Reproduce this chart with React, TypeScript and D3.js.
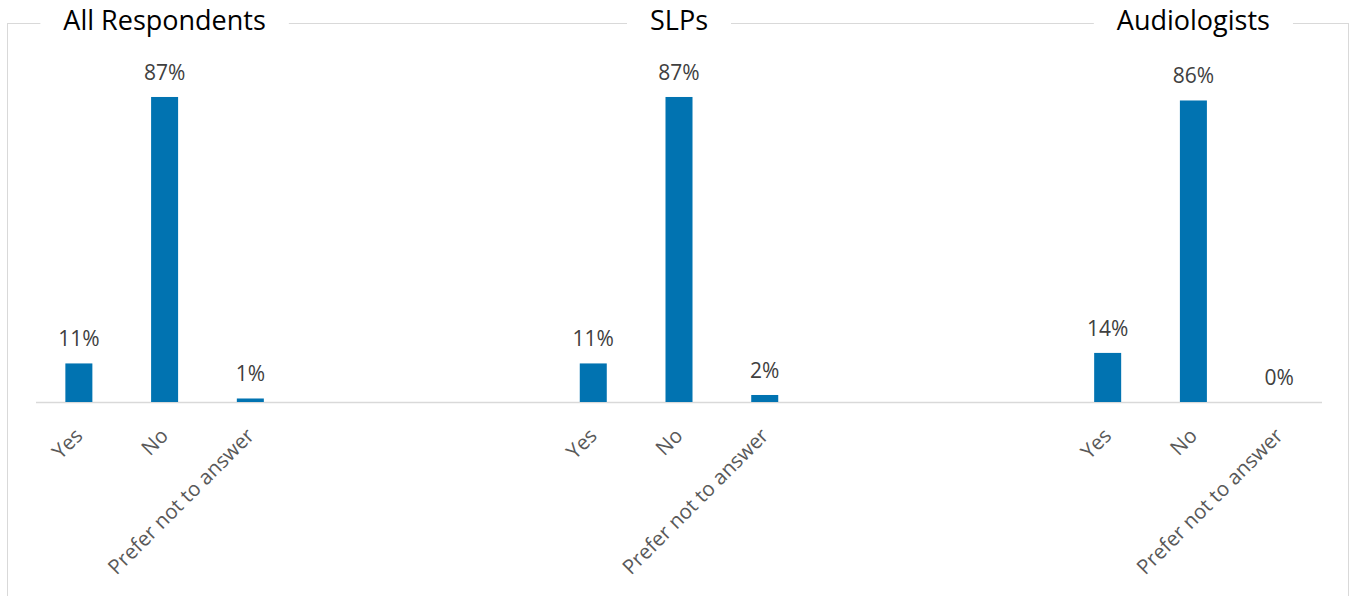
import React, { useEffect, useRef } from "react";
import * as d3 from "d3";

const groups = ["All Respondents", "SLPs", "Audiologists"];
const categories = ["Yes", "No", "Prefer not to answer"];
const allValues = [11, 87, 1];
const slpValues = [11, 87, 2];
const audValues = [14, 86, 0];
const seriesByGroup = [allValues, slpValues, audValues];

const W = 1357;
const H = 596;
const FONT = "'Open Sans', sans-serif";

export default function App() {
  const ref = useRef<SVGSVGElement | null>(null);

  useEffect(() => {
    const svg = d3.select(ref.current);
    svg.selectAll("*").remove();

    type Row = { key: string; group: number; cat: string; value: number | null };
    const rows: Row[] = [];
    groups.forEach((g, gi) => {
      categories.forEach((c, ci) => {
        rows.push({ key: `${gi}-${ci}`, group: gi, cat: c, value: seriesByGroup[gi][ci] });
      });
      if (gi < groups.length - 1) {
        for (let k = 0; k < 3; k++) rows.push({ key: `${gi}-gap${k}`, group: gi, cat: "", value: null });
      }
    });

    const left = 36, right = 1322, baseline = 402, top = 51.4;
    const x = d3.scaleBand<string>()
      .domain(rows.map(r => r.key))
      .range([left, right])
      .paddingInner(0.685)
      .paddingOuter(0.685 / 2);
    const y = d3.scaleLinear().domain([0, 100]).range([baseline, top]);

    // border
    svg.append("rect")
      .attr("x", 7.5).attr("y", 23.5)
      .attr("width", 1341).attr("height", 600)
      .attr("fill", "none").attr("stroke", "#d9d9d9").attr("stroke-width", 1);

    // axis line
    svg.append("line")
      .attr("x1", left).attr("x2", right)
      .attr("y1", baseline + 0.5).attr("y2", baseline + 0.5)
      .attr("stroke", "#d9d9d9").attr("stroke-width", 1.5);

    const data = rows.filter(r => r.value !== null) as (Row & { value: number })[];

    svg.append("g").selectAll("rect").data(data).join("rect")
      .attr("x", d => x(d.key)!)
      .attr("width", x.bandwidth())
      .attr("y", d => y(d.value))
      .attr("height", d => baseline - y(d.value))
      .attr("fill", "#0173b1");

    svg.append("g").selectAll("text").data(data).join("text")
      .attr("x", d => x(d.key)! + x.bandwidth() / 2)
      .attr("y", d => y(d.value) - 17)
      .attr("text-anchor", "middle")
      .attr("font-family", FONT)
      .attr("font-size", 21)
      .attr("fill", "#404040")
      .text(d => `${d.value}%`);

    // tick labels
    svg.append("g").selectAll("text").data(data).join("text")
      .attr("transform", d => `translate(${x(d.key)! + x.bandwidth() / 2 + 5},437) rotate(-45)`)
      .attr("text-anchor", "end")
      .attr("font-family", FONT)
      .attr("font-size", 20.5)
      .attr("fill", "#595959")
      .text(d => d.cat);

    // titles with white background breaking the border
    groups.forEach((g, gi) => {
      const cx = x(`${gi}-1`)! + x.bandwidth() / 2;
      const t = svg.append("text")
        .attr("x", cx).attr("y", 30)
        .attr("text-anchor", "middle")
        .attr("font-family", FONT)
        .attr("font-size", 27)
        .attr("fill", "#000000")
        .text(g);
      const w = (t.node() as SVGTextElement).getComputedTextLength();
      svg.insert("rect", () => t.node() as any)
        .attr("x", cx - w / 2 - 23).attr("y", 12)
        .attr("width", w + 46).attr("height", 22)
        .attr("fill", "#ffffff");
    });
  }, []);

  return (
    <svg
      ref={ref}
      width={W}
      height={H}
      style={{ position: "absolute", left: 0, top: 0, background: "#ffffff" }}
    />
  );
}
